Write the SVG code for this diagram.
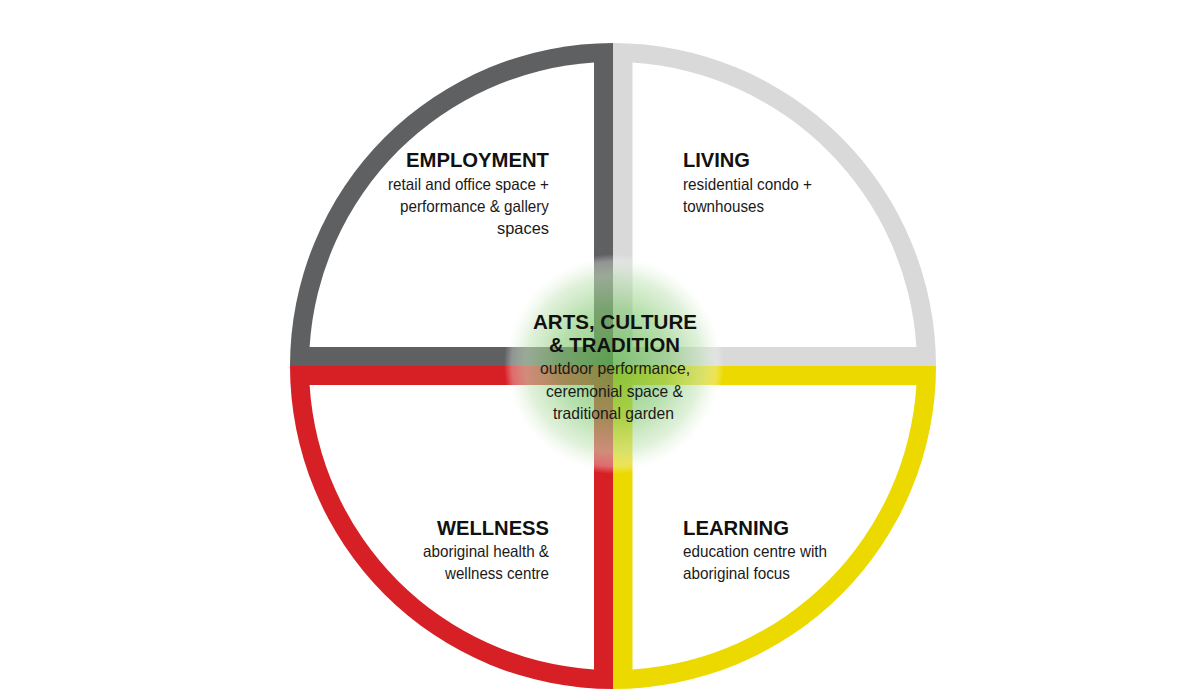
<svg xmlns="http://www.w3.org/2000/svg" width="1200" height="700" viewBox="0 0 1200 700">
  <style>
    .h { font-family: "Liberation Sans", Arial, sans-serif; font-weight: bold; font-size: 20px; fill: #111; }
    .t { font-family: "Liberation Sans", Arial, sans-serif; font-size: 16.5px; fill: #1a1a1a; }
    .white { fill: #ffffff; }
  </style>
  <defs>
    <radialGradient id="glow" cx="0.5" cy="0.5" r="0.5">
      <stop offset="0" stop-color="#5ab648" stop-opacity="0.72"/>
      <stop offset="0.5" stop-color="#86cb75" stop-opacity="0.62"/>
      <stop offset="0.8" stop-color="#c8e6be" stop-opacity="0.55"/>
      <stop offset="0.93" stop-color="#eef7ea" stop-opacity="0.35"/>
      <stop offset="1" stop-color="#ffffff" stop-opacity="0"/>
    </radialGradient>
  </defs>
  <rect width="1200" height="700" fill="#ffffff"/>

  <g id="employment">
    <path d="M613,366 L290,366 A323,323 0 0 1 613,43 Z" fill="#5f6062"/>
    <path class="white" d="M594,347 L594,62.6 A304,304 0 0 0 309.6,347 Z"/>
    <text class="h" x="549" y="167" text-anchor="end" textLength="143" lengthAdjust="spacingAndGlyphs">EMPLOYMENT</text>
    <text class="t" x="549" y="189.5" text-anchor="end" textLength="161" lengthAdjust="spacingAndGlyphs">retail and office space +</text>
    <text class="t" x="549" y="211.5" text-anchor="end" textLength="149" lengthAdjust="spacingAndGlyphs">performance &amp; gallery</text>
    <text class="t" x="549" y="233.5" text-anchor="end" textLength="52" lengthAdjust="spacingAndGlyphs">spaces</text>
  </g>

  <g id="living">
    <path d="M613,366 L613,43 A323,323 0 0 1 936,366 Z" fill="#d9d9da"/>
    <path class="white" d="M632.5,347 L632.5,62.6 A304,304 0 0 1 916.4,347 Z"/>
    <text class="h" x="683" y="167" textLength="67" lengthAdjust="spacingAndGlyphs">LIVING</text>
    <text class="t" x="683" y="189.5" textLength="129" lengthAdjust="spacingAndGlyphs">residential condo +</text>
    <text class="t" x="683" y="211.5" textLength="81" lengthAdjust="spacingAndGlyphs">townhouses</text>
  </g>

  <g id="wellness">
    <path d="M613,366 L613,689 A323,323 0 0 1 290,366 Z" fill="#d71f26"/>
    <path class="white" d="M594,385 L594,669.4 A304,304 0 0 1 309.6,385 Z"/>
    <text class="h" x="549" y="534.5" text-anchor="end" textLength="112" lengthAdjust="spacingAndGlyphs">WELLNESS</text>
    <text class="t" x="549" y="557" text-anchor="end" textLength="126" lengthAdjust="spacingAndGlyphs">aboriginal health &amp;</text>
    <text class="t" x="549" y="579" text-anchor="end" textLength="104" lengthAdjust="spacingAndGlyphs">wellness centre</text>
  </g>

  <g id="learning">
    <path d="M613,366 L936,366 A323,323 0 0 1 613,689 Z" fill="#ebd900"/>
    <path class="white" d="M632.5,385 L916.4,385 A304,304 0 0 1 632.5,669.4 Z"/>
    <text class="h" x="683" y="534.5" textLength="106" lengthAdjust="spacingAndGlyphs">LEARNING</text>
    <text class="t" x="683" y="557" textLength="144" lengthAdjust="spacingAndGlyphs">education centre with</text>
    <text class="t" x="683" y="579" textLength="107" lengthAdjust="spacingAndGlyphs">aboriginal focus</text>
  </g>

  <g id="arts-culture-tradition">
    <circle cx="614" cy="364" r="110" fill="url(#glow)"/>
    <text class="h" x="615" y="328.5" text-anchor="middle" textLength="164" lengthAdjust="spacingAndGlyphs">ARTS, CULTURE</text>
    <text class="h" x="614.5" y="352" text-anchor="middle" textLength="131" lengthAdjust="spacingAndGlyphs">&amp; TRADITION</text>
    <text class="t" x="615" y="373.5" text-anchor="middle" textLength="150" lengthAdjust="spacingAndGlyphs">outdoor performance,</text>
    <text class="t" x="614.5" y="396.5" text-anchor="middle" textLength="137" lengthAdjust="spacingAndGlyphs">ceremonial space &amp;</text>
    <text class="t" x="613.5" y="418.5" text-anchor="middle" textLength="121" lengthAdjust="spacingAndGlyphs">traditional garden</text>
  </g>

  <g id="connectors"></g>
</svg>
